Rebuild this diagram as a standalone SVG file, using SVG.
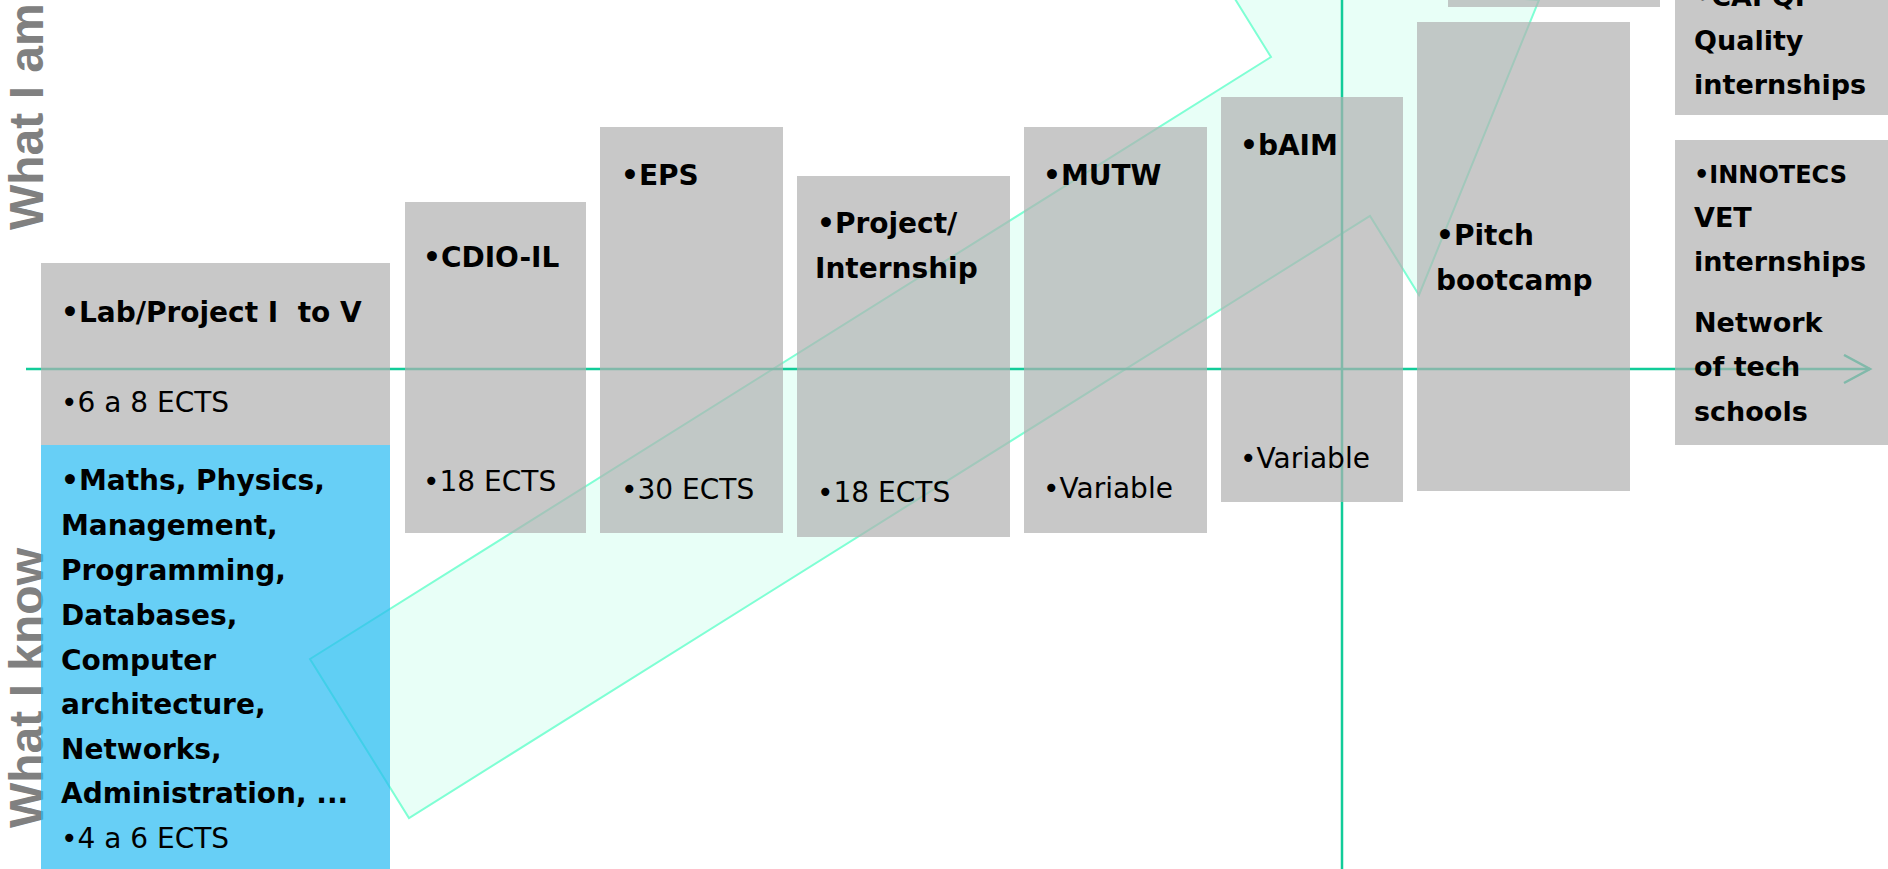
<svg xmlns="http://www.w3.org/2000/svg" width="1888" height="869" viewBox="0 0 1888 869">
  <style>
    .box { fill: #b1b1b1; fill-opacity: 0.7; }
    .know { fill: #26baf2; fill-opacity: 0.7; }
    .t { font-family: "DejaVu Sans", "Liberation Sans", sans-serif; font-size: 28px; fill: #000000; }
    .b { font-weight: bold; }
    .s { font-size: 24px; }
    .r { font-size: 27px; }
    .side { font-family: "Liberation Sans", Arial, sans-serif; font-weight: bold; font-size: 48px; fill: #808080; }
    .axis { stroke: #11cc99; stroke-width: 2.5; fill: none; }
    .big { fill: #7fffd4; fill-opacity: 0.18; stroke: #7fffd4; stroke-width: 2; }
  </style>
  <defs>
    <marker id="open" markerUnits="userSpaceOnUse" markerWidth="30" markerHeight="32" refX="27" refY="15" orient="auto">
      <path d="M1,1 L27,15 L1,29" fill="none" stroke="#11cc99" stroke-width="2.5"/>
    </marker>
  </defs>
  <rect width="1888" height="869" fill="#ffffff"/>

  <g id="labels">
    <text class="side" transform="translate(43,230) rotate(-90)">What I am</text>
    <text class="side" transform="translate(43,828) rotate(-90)">What I know</text>
  </g>

  <g id="progress-arrow">
    <polygon class="big" points="310,659 1271,57 1222,-22 1539,0 1419,295 1370,216 409,818"/>
  </g>

  <g id="connectors">
    <line class="axis" x1="26" y1="369" x2="1870" y2="369" marker-end="url(#open)"/>
    <line class="axis" x1="1342" y1="0" x2="1342" y2="869" stroke-width="2"/>
  </g>

  <g id="node-lab">
    <rect class="box" x="41" y="263" width="349" height="182"/>
    <text class="t b" x="61" y="322" style="white-space:pre">•Lab/Project I  to V</text>
    <text class="t" x="61" y="412">•6 a 8 ECTS</text>
  </g>

  <g id="node-know">
    <rect class="know" x="41" y="445" width="349" height="424"/>
    <text class="t b" x="61" y="490">•Maths, Physics,</text>
    <text class="t b" x="61" y="535">Management,</text>
    <text class="t b" x="61" y="580">Programming,</text>
    <text class="t b" x="61" y="625">Databases,</text>
    <text class="t b" x="61" y="670">Computer</text>
    <text class="t b" x="61" y="714">architecture,</text>
    <text class="t b" x="61" y="759">Networks,</text>
    <text class="t b" x="61" y="803">Administration, ...</text>
    <text class="t" x="61" y="848">•4 a 6 ECTS</text>
  </g>

  <g id="node-cdio">
    <rect class="box" x="405" y="202" width="181" height="331"/>
    <text class="t b" x="423" y="267">•CDIO-IL</text>
    <text class="t" x="423" y="491">•18 ECTS</text>
  </g>

  <g id="node-eps">
    <rect class="box" x="600" y="127" width="183" height="406"/>
    <text class="t b" x="621" y="185">•EPS</text>
    <text class="t" x="621" y="499">•30 ECTS</text>
  </g>

  <g id="node-project">
    <rect class="box" x="797" y="176" width="213" height="361"/>
    <text class="t b" x="817" y="233">•Project/</text>
    <text class="t b" x="815" y="278">Internship</text>
    <text class="t" x="817" y="502">•18 ECTS</text>
  </g>

  <g id="node-mutw">
    <rect class="box" x="1024" y="127" width="183" height="406"/>
    <text class="t b" x="1043" y="185">•MUTW</text>
    <text class="t" x="1043" y="498">•Variable</text>
  </g>

  <g id="node-baim">
    <rect class="box" x="1221" y="97" width="182" height="405"/>
    <text class="t b" x="1240" y="155">•bAIM</text>
    <text class="t" x="1240" y="468">•Variable</text>
  </g>

  <g id="node-pitch">
    <rect class="box" x="1417" y="22" width="213" height="469"/>
    <text class="t b" x="1436" y="245">•Pitch</text>
    <text class="t b" x="1436" y="290">bootcamp</text>
  </g>

  <g id="node-top">
    <rect class="box" x="1448" y="-60" width="212" height="67"/>
  </g>

  <g id="node-capqi">
    <rect class="box" x="1675" y="-40" width="220" height="155"/>
    <text class="t b r" x="1694" y="6">•CAPQI</text>
    <text class="t b r" x="1694" y="50">Quality</text>
    <text class="t b r" x="1694" y="94">internships</text>
  </g>

  <g id="node-innotecs">
    <rect class="box" x="1675" y="140" width="220" height="305"/>
    <text class="t b s" x="1694" y="183">•INNOTECS</text>
    <text class="t b r" x="1694" y="227">VET</text>
    <text class="t b r" x="1694" y="271">internships</text>
    <text class="t b r" x="1694" y="332">Network</text>
    <text class="t b r" x="1694" y="376">of tech</text>
    <text class="t b r" x="1694" y="421">schools</text>
  </g>
</svg>
